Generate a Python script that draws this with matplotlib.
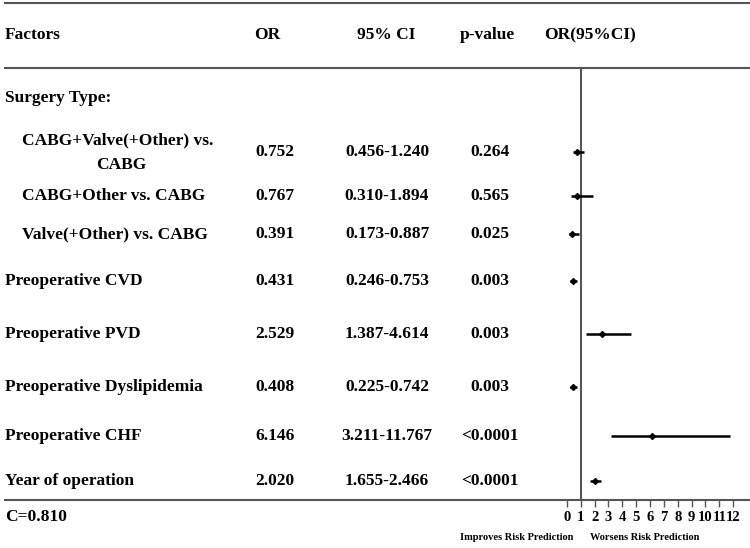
import matplotlib.pyplot as plt

# table data
factors = ["CABG+Valve(+Other) vs.", "CABG+Other vs. CABG", "Valve(+Other) vs. CABG",
           "Preoperative CVD", "Preoperative PVD", "Preoperative Dyslipidemia",
           "Preoperative CHF", "Year of operation"]
or_vals = [0.752, 0.767, 0.391, 0.431, 2.529, 0.408, 6.146, 2.020]
ci_low = [0.456, 0.310, 0.173, 0.246, 1.387, 0.225, 3.211, 1.655]
ci_high = [1.240, 1.894, 0.887, 0.753, 4.614, 0.742, 11.767, 2.466]
p_vals = ["0.264", "0.565", "0.025", "0.003", "0.003", "0.003", "<0.0001", "<0.0001"]
indent = [True, True, True, False, False, False, False, False]
xticks = list(range(0, 13))

# layout (pixel rows)
row_y = [152, 196, 234, 281, 334, 387, 436, 481]

plt.rcParams['font.family'] = ['Liberation Serif', 'DejaVu Serif']
plt.rcParams['font.weight'] = 'bold'

fig = plt.figure(figsize=(7.5, 5.48), dpi=100)
ax = fig.add_axes([0, 0, 1, 1])
ax.set_xlim(0, 750)
ax.set_ylim(548, 0)
ax.axis('off')

fs = 12.5
lc = '#555555'
ax.plot([5, 750], [3, 3], color=lc, lw=1.5)
ax.plot([5, 750], [68, 68], color=lc, lw=1.5)
ax.plot([5, 750], [500, 500], color=lc, lw=1.5)

ax.text(5, 35, "Factors", fontsize=fs, weight='bold', va='center')
ax.text(267, 35, "OR", fontsize=fs, weight='bold', va='center', ha='center')
ax.text(386, 35, "95% CI", fontsize=fs, weight='bold', va='center', ha='center')
ax.text(487, 35, "p-value", fontsize=fs, weight='bold', va='center', ha='center')
ax.text(590, 35, "OR(95%CI)", fontsize=fs, weight='bold', va='center', ha='center')
ax.text(5, 98, "Surgery Type:", fontsize=fs, weight='bold', va='center')

for i, name in enumerate(factors):
    x0 = 22 if indent[i] else 5
    ty = row_y[i] - 12 if i == 0 else row_y[i]
    ax.text(x0, ty, name, fontsize=fs, weight='bold', va='center')
    ax.text(275, row_y[i], f"{or_vals[i]:.3f}", fontsize=fs, weight='bold', va='center', ha='center')
    ax.text(387, row_y[i], f"{ci_low[i]:.3f}-{ci_high[i]:.3f}", fontsize=fs, weight='bold',
            va='center', ha='center')
    ax.text(490, row_y[i], p_vals[i], fontsize=fs, weight='bold', va='center', ha='center')
ax.text(121, row_y[0] + 13, "CABG", fontsize=fs, weight='bold', va='center', ha='center')

ax.text(5, 517, "C=0.810", fontsize=fs, weight='bold', va='center')
ax.text(517, 538, "Improves Risk Prediction", fontsize=7.5, weight='bold', va='center', ha='center')
ax.text(645, 538, "Worsens Risk Prediction", fontsize=7.5, weight='bold', va='center', ha='center')

# forest plot
fx0, fx1 = 553, 747
fy0, fy1 = 68, 500
fa = fig.add_axes([fx0 / 750, 1 - fy1 / 548, (fx1 - fx0) / 750, (fy1 - fy0) / 548])
fa.set_xlim(-1, 13)
fa.set_ylim(fy1, fy0)
fa.patch.set_alpha(0)
for s in fa.spines.values():
    s.set_visible(False)
fa.axvline(1, color=lc, lw=1.5)
fa.hlines(row_y, ci_low, ci_high, color='black', lw=1.8)
fa.plot(or_vals, row_y, 'D', color='black', ms=3)
fa.set_yticks([])
fa.set_xticks(xticks)
fa.set_xticklabels([str(t) for t in xticks], fontsize=10.5, fontweight='bold')
fa.tick_params(axis='x', length=5, width=1, color=lc, pad=3)

plt.savefig("out.png", dpi=100)
